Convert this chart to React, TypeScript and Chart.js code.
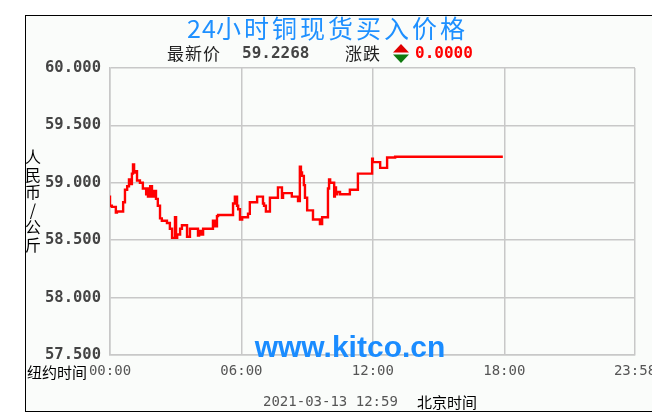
import { useEffect, useRef } from 'react';
import { Chart, registerables } from 'chart.js';

Chart.register(...registerables);

// ---- data ----
const minutes = [
  0, 5, 16, 19, 36, 41, 47, 52, 58, 60, 63, 66, 68, 74, 82, 90, 99, 101, 104, 110,
  115, 121, 126, 131, 137, 142, 156, 164, 170, 178, 181, 184, 192, 197, 211, 219, 241, 244, 249, 255,
  282, 288, 293, 296, 337, 342, 348, 351, 356, 362, 378, 383, 403, 419, 422, 427, 438, 460, 471, 474,
  498, 515, 520, 523, 526, 531, 534, 540, 556, 575, 581, 597, 600, 603, 614, 616, 619, 622, 630, 657,
  679, 718, 720, 740, 759, 781, 800, 1076,
];
const prices = [
  58.89, 58.8, 58.79, 58.74, 58.75, 58.83, 58.94, 58.97, 59.03, 58.99, 59.08, 59.16, 59.09, 59.1, 59.02, 59.0, 58.95, 58.9, 58.95, 58.88,
  58.97, 58.88, 58.93, 58.86, 58.8, 58.69, 58.67, 58.65, 58.6, 58.52, 58.7, 58.52, 58.55, 58.6, 58.63, 58.53, 58.6, 58.54, 58.58, 58.55,
  58.6, 58.67, 58.62, 58.71, 58.72, 58.82, 58.88, 58.8, 58.77, 58.68, 58.7, 58.73, 58.83, 58.88, 58.82, 58.8, 58.75, 58.87, 58.96, 58.87,
  58.91, 58.88, 58.84, 59.14, 59.09, 59.06, 58.98, 58.87, 58.76, 58.68, 58.64, 58.7, 58.95, 59.03, 59.0, 58.88, 58.96, 58.9, 58.92, 58.9,
  58.94, 59.08, 59.21, 59.18, 59.13, 59.22, 59.2268, 59.2268,
];
const xTickValues = [0, 360, 720, 1080, 1438];
const xTickLabels = ['00:00', '06:00', '12:00', '18:00', '23:58'];
const yMin = 57.5;
const yMax = 60;
const yStep = 0.5;

// ---- texts ----
const titleDigits = '24';
const titleRest = '小时铜现货买入价格';
const latestLabel = '最新价';
const latestValue = '59.2268';
const changeLabel = '涨跌';
const changeValue = '0.0000';
const yTitleChars = ['人', '民', '币', '/', '公', '斤'];
const xPrefix = '纽约时间';
const timestamp = '2021-03-13 12:59';
const tzLabel = '北京时间';
const watermark = 'www.kitco.cn';

const CJK = '"Noto Sans CJK SC", sans-serif';
const MONO = '"DejaVu Sans Mono", monospace';

const decorPlugin = {
  id: 'decor',
  beforeDraw(chart: any) {
    const ctx = chart.ctx as CanvasRenderingContext2D;
    ctx.save();
    ctx.fillStyle = '#ffffff';
    ctx.fillRect(0, 0, chart.width, chart.height);
    ctx.fillStyle = '#fafcfa';
    ctx.fillRect(25, 15, 700, 397);
    ctx.strokeStyle = '#000000';
    ctx.lineWidth = 1;
    ctx.strokeRect(25.5, 15.5, 700, 396);
    ctx.restore();
  },
  afterDraw(chart: any) {
    const ctx = chart.ctx as CanvasRenderingContext2D;
    const area = chart.chartArea;
    ctx.save();
    const setSpacing = (s: string) => {
      (ctx as any).letterSpacing = s;
    };
    // title
    ctx.fillStyle = '#1e90ff';
    ctx.textBaseline = 'middle';
    ctx.textAlign = 'left';
    ctx.font = `25px ${CJK}`;
    setSpacing('1px');
    ctx.fillText(titleDigits, 187, 28);
    setSpacing('3px');
    ctx.fillText(titleRest, 216, 28);

    // latest line
    ctx.fillStyle = '#222222';
    ctx.font = `17px ${CJK}`;
    setSpacing('1px');
    ctx.fillText(latestLabel, 167, 54);
    ctx.fillText(changeLabel, 345, 54);
    setSpacing('0px');
    ctx.font = `bold 16px ${MONO}`;
    ctx.fillStyle = '#444444';
    ctx.fillText(latestValue, 242, 54);
    ctx.fillStyle = '#ff0000';
    ctx.fillText(changeValue, 415, 54);
    // up / down triangles
    ctx.fillStyle = '#e00000';
    ctx.beginPath();
    ctx.moveTo(393, 52.5);
    ctx.lineTo(409, 52.5);
    ctx.lineTo(401, 44);
    ctx.closePath();
    ctx.fill();
    ctx.fillStyle = '#107a10';
    ctx.beginPath();
    ctx.moveTo(393, 54.5);
    ctx.lineTo(409, 54.5);
    ctx.lineTo(401, 63);
    ctx.closePath();
    ctx.fill();

    // vertical y title
    ctx.fillStyle = '#000000';
    ctx.font = `16px ${CJK}`;
    ctx.textAlign = 'center';
    yTitleChars.forEach((c, i) => {
      ctx.fillText(c, 33, 157 + i * 17.6);
    });

    // x prefix
    ctx.textAlign = 'right';
    ctx.font = `15px ${CJK}`;
    ctx.fillText(xPrefix, area.left - 23, 372);

    // bottom timestamp
    ctx.textAlign = 'left';
    ctx.font = `14px ${MONO}`;
    ctx.fillStyle = '#555555';
    ctx.fillText(timestamp, 263, 402);
    ctx.fillStyle = '#000000';
    ctx.font = `15px ${CJK}`;
    ctx.fillText(tzLabel, 417, 402);

    // watermark
    ctx.textAlign = 'center';
    ctx.textBaseline = 'alphabetic';
    ctx.fillStyle = '#1a8cff';
    ctx.font = `bold 30px "Liberation Sans", Arial, sans-serif`;
    ctx.fillText(watermark, 350, 357);
    ctx.restore();
  },
};

export default function App() {
  const canvasRef = useRef<HTMLCanvasElement | null>(null);

  useEffect(() => {
    const canvas = canvasRef.current;
    if (!canvas) return;
    const chart = new Chart(canvas, {
      type: 'line',
      data: {
        datasets: [
          {
            data: minutes.map((m, i) => ({ x: m, y: prices[i] })),
            borderColor: '#ff0000',
            borderWidth: 2.4,
            pointRadius: 0,
            stepped: 'after',
            fill: false,
          },
        ],
      },
      options: {
        animation: false,
        responsive: false,
        maintainAspectRatio: false,
        devicePixelRatio: 1,
        layout: { padding: { left: 25, top: 68, right: 17, bottom: 0 } },
        plugins: {
          legend: { display: false },
          tooltip: { enabled: false },
          title: { display: false },
        },
        scales: {
          x: {
            type: 'linear',
            min: 0,
            max: 1438,
            afterBuildTicks: (s: any) => {
              s.ticks = xTickValues.map((v) => ({ value: v }));
            },
            afterFit: (s: any) => {
              s.height = 65;
              s.paddingLeft = 0;
              s.paddingRight = 0;
            },
            ticks: {
              autoSkip: false,
              maxRotation: 0,
              minRotation: 0,
              padding: 8,
              color: '#555555',
              font: { family: '"DejaVu Sans Mono", monospace', size: 14 },
              callback: (_v: any, i: number) => xTickLabels[i],
            },
            grid: { color: '#c8c8c8', lineWidth: 1.5, drawTicks: false },
            border: { color: '#c8c8c8', width: 1.5 },
          },
          y: {
            min: yMin,
            max: yMax,
            afterFit: (s: any) => {
              s.width = 85;
              s.paddingTop = 0;
              s.paddingBottom = 0;
            },
            ticks: {
              stepSize: yStep,
              padding: 9,
              color: '#444444',
              font: { family: '"DejaVu Sans Mono", monospace', size: 15.5, weight: 'bold' },
              callback: (v: any) => Number(v).toFixed(3),
            },
            grid: { color: '#c8c8c8', lineWidth: 1.5, drawTicks: false },
            border: { color: '#c8c8c8', width: 1.5 },
          },
        },
      } as any,
      plugins: [decorPlugin],
    });
    return () => chart.destroy();
  }, []);

  return (
    <div style={{ position: 'absolute', left: 0, top: 0, width: 652, height: 420 }}>
      <canvas ref={canvasRef} width={652} height={420} style={{ display: 'block', width: 652, height: 420 }} />
    </div>
  );
}
